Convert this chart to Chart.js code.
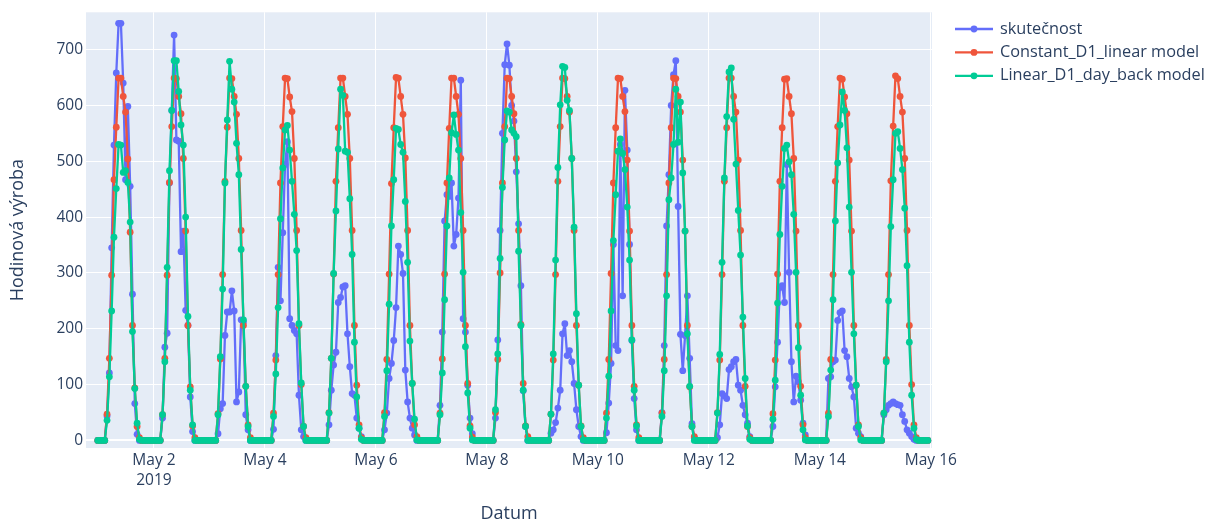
<!DOCTYPE html>
<html lang="cs">
<head>
<meta charset="UTF-8">
<title>Hodinová výroba</title>
<script src="https://cdn.jsdelivr.net/npm/chart.js"></script>
<style>
  body { margin: 0; background: #fff; }
  #chart { display: block; }
</style>
</head>
<body>
<canvas id="chart" width="1223" height="525"></canvas>
<script>
// Hourly production, 1-15 May 2019. One row per day, holding the daylight
// samples only (samples 4..18 of the day); every other hour is 0.
const firstSample = -0.3;   // hours after 1 May 2019 00:00
const daylightFrom = 4;

const seriesNames = ['skutečnost', 'Constant_D1_linear model', 'Linear_D1_day_back model'];
const seriesColors = ['#636efa', '#ef553b', '#00cc96'];

const skutecnost = [
  [44, 121, 345, 529, 658, 747, 747, 640, 467, 598, 455, 262, 66, 11, 0],
  [40, 167, 192, 461, 591, 726, 538, 536, 338, 375, 233, 206, 78, 16, 0],
  [12, 57, 66, 188, 230, 230, 268, 232, 69, 87, 216, 212, 46, 19, 0],
  [20, 152, 310, 250, 372, 494, 535, 218, 206, 197, 191, 81, 19, 7, 0],
  [28, 90, 135, 158, 247, 256, 275, 277, 191, 132, 84, 81, 40, 22, 7],
  [19, 49, 111, 138, 179, 238, 348, 333, 299, 126, 69, 40, 22, 10, 0],
  [63, 194, 393, 440, 437, 461, 348, 369, 434, 645, 218, 194, 99, 40, 12],
  [40, 180, 376, 550, 673, 710, 672, 600, 572, 481, 388, 277, 89, 25, 0],
  [13, 19, 32, 58, 90, 191, 209, 152, 161, 141, 102, 55, 25, 7, 0],
  [14, 67, 138, 351, 170, 161, 530, 259, 627, 520, 351, 179, 75, 19, 0],
  [50, 170, 384, 476, 600, 655, 680, 419, 190, 125, 188, 259, 147, 30, 5],
  [5, 28, 84, 80, 75, 127, 132, 141, 145, 99, 90, 63, 46, 31, 7],
  [25, 96, 176, 274, 277, 247, 494, 301, 141, 69, 115, 105, 72, 31, 10],
  [111, 114, 141, 144, 215, 229, 232, 161, 150, 111, 96, 78, 22, 13, 7],
  [46, 55, 63, 66, 69, 66, 64, 63, 46, 34, 19, 13, 7, 2, 0]
];

const constantModel = [
  [47, 147, 296, 467, 561, 649, 649, 616, 588, 504, 373, 206, 94, 25, 5],
  [46, 147, 296, 462, 562, 649, 648, 616, 585, 505, 375, 206, 96, 26, 5],
  [48, 146, 297, 464, 561, 649, 648, 616, 584, 505, 376, 206, 97, 28, 5],
  [49, 144, 297, 461, 562, 649, 648, 615, 589, 505, 376, 206, 100, 25, 5],
  [50, 147, 298, 464, 560, 649, 649, 616, 584, 505, 376, 206, 99, 28, 5],
  [50, 145, 298, 460, 560, 650, 649, 616, 584, 506, 376, 206, 102, 28, 7],
  [49, 146, 298, 461, 559, 649, 649, 616, 584, 505, 376, 206, 102, 26, 6],
  [50, 145, 300, 461, 562, 649, 648, 616, 585, 505, 376, 208, 102, 26, 7],
  [47, 144, 297, 464, 562, 649, 648, 616, 588, 505, 376, 206, 99, 26, 5],
  [49, 145, 299, 461, 560, 649, 648, 616, 589, 502, 375, 206, 97, 28, 5],
  [49, 145, 297, 461, 560, 649, 648, 616, 588, 502, 375, 206, 96, 25, 7],
  [50, 144, 297, 464, 560, 649, 649, 616, 588, 502, 376, 206, 97, 25, 5],
  [48, 144, 298, 464, 560, 647, 648, 616, 585, 505, 375, 206, 97, 28, 5],
  [49, 145, 297, 464, 562, 649, 647, 615, 585, 502, 375, 206, 99, 28, 5],
  [49, 145, 297, 465, 563, 653, 648, 616, 588, 505, 376, 206, 100, 28, 5]
];

const linearModel = [
  [36, 114, 232, 364, 451, 530, 529, 480, 483, 462, 391, 195, 93, 31, 2],
  [46, 141, 310, 483, 591, 680, 680, 625, 565, 529, 400, 222, 90, 28, 0],
  [46, 150, 271, 461, 574, 679, 629, 606, 532, 476, 342, 216, 97, 25, 0],
  [43, 119, 238, 397, 488, 556, 564, 520, 464, 405, 340, 209, 103, 25, 0],
  [49, 147, 299, 411, 522, 629, 618, 518, 516, 433, 333, 176, 78, 22, 2],
  [43, 125, 244, 384, 467, 559, 557, 530, 516, 428, 319, 178, 102, 38, 1],
  [46, 121, 252, 384, 470, 551, 583, 548, 520, 408, 301, 168, 85, 22, 1],
  [55, 155, 326, 453, 538, 590, 588, 556, 550, 544, 339, 206, 90, 25, 0],
  [47, 155, 323, 489, 601, 670, 668, 609, 591, 505, 382, 227, 99, 25, 1],
  [40, 115, 232, 358, 440, 518, 540, 514, 485, 418, 323, 180, 90, 26, 0],
  [43, 125, 259, 431, 470, 530, 629, 534, 606, 479, 375, 191, 97, 25, 0],
  [49, 154, 319, 470, 580, 660, 667, 575, 495, 412, 332, 221, 111, 26, 2],
  [38, 108, 246, 369, 455, 523, 529, 499, 476, 405, 301, 166, 81, 19, 1],
  [43, 126, 252, 393, 497, 565, 624, 591, 524, 418, 301, 191, 99, 25, 1],
  [49, 141, 250, 383, 467, 550, 553, 523, 485, 416, 313, 176, 81, 22, 2]
];

const yTicks = [0, 100, 200, 300, 400, 500, 600, 700];
const xTickHours = [24, 72, 120, 168, 216, 264, 312, 360];
const xTickLabels = ['May 2', 'May 4', 'May 6', 'May 8', 'May 10', 'May 12', 'May 14', 'May 16'];
const xTickYear = '2019';

const font = "'Open Sans', sans-serif";
const ink = '#2a3f5f';

// expand the daily rows into one hourly series
function toPoints(days) {
  const pts = [];
  days.forEach((row, d) => {
    for (let j = 0; j < 24; j++) {
      const k = j - daylightFrom;
      const y = (k >= 0 && k < row.length) ? row[k] : 0;
      pts.push({ x: firstSample + d * 24 + j, y: y });
    }
  });
  return pts;
}

function makeDataset(i, days) {
  return {
    label: seriesNames[i],
    data: toPoints(days),
    borderColor: seriesColors[i],
    backgroundColor: seriesColors[i],
    borderWidth: 2.3,
    borderJoinStyle: 'round',
    borderCapStyle: 'round',
    pointRadius: 3.4,
    pointBorderWidth: 0,
    pointHoverRadius: 3.4,
    tension: 0,
    order: 3 - i   // later traces are painted on top
  };
}

// light blue-grey plot area behind the grid
const plotBg = {
  id: 'plotBg',
  beforeDraw(chart) {
    const { ctx, chartArea: a } = chart;
    ctx.save();
    ctx.fillStyle = '#e5ecf6';
    ctx.fillRect(a.left, a.top, a.right - a.left, a.bottom - a.top);
    ctx.restore();
  }
};

// axis titles and the line+marker legend on the right
const titlesAndLegend = {
  id: 'titlesAndLegend',
  afterDraw(chart) {
    const { ctx, chartArea: a } = chart;
    ctx.save();
    ctx.fillStyle = ink;
    ctx.font = '18px ' + font;
    ctx.textAlign = 'center';
    ctx.textBaseline = 'middle';
    ctx.fillText('Datum', (a.left + a.right) / 2, 514);
    ctx.translate(18, (a.top + a.bottom) / 2);
    ctx.rotate(-Math.PI / 2);
    ctx.fillText('Hodinová výroba', 0, 0);
    ctx.restore();

    ctx.save();
    ctx.font = '16.3px ' + font;
    ctx.textAlign = 'left';
    ctx.textBaseline = 'middle';
    chart.data.datasets.forEach((ds, i) => {
      const y = 29 + i * 23.4;
      ctx.strokeStyle = ds.borderColor;
      ctx.fillStyle = ds.borderColor;
      ctx.lineWidth = 2.3;
      ctx.beginPath();
      ctx.moveTo(955, y);
      ctx.lineTo(993, y);
      ctx.stroke();
      ctx.beginPath();
      ctx.arc(974, y, 3.4, 0, Math.PI * 2);
      ctx.fill();
      ctx.fillStyle = ink;
      ctx.fillText(ds.label, 1000, y);
    });
    ctx.restore();
  }
};

new Chart(document.getElementById('chart'), {
  type: 'line',
  data: {
    datasets: [
      makeDataset(0, skutecnost),
      makeDataset(1, constantModel),
      makeDataset(2, linearModel)
    ]
  },
  options: {
    responsive: false,
    animation: false,
    devicePixelRatio: 1,
    layout: { padding: { top: 10, right: 291, bottom: 0, left: 0 } },
    scales: {
      x: {
        type: 'linear',
        min: -5.4,
        max: 360.5,
        afterBuildTicks: (scale) => { scale.ticks = xTickHours.map(v => ({ value: v })); },
        afterFit: (scale) => { scale.height = 77; },
        grid: { color: '#ffffff', lineWidth: 1, drawTicks: false },
        border: { display: false },
        ticks: {
          autoSkip: false,
          maxRotation: 0,
          padding: 3,
          color: ink,
          font: { family: font, size: 15.5, lineHeight: 1.27 },
          callback: (value, index) => index === 0 ? [xTickLabels[0], xTickYear] : xTickLabels[index]
        }
      },
      y: {
        min: -13.5,
        max: 766.7,
        afterBuildTicks: (scale) => { scale.ticks = yTicks.map(v => ({ value: v })); },
        afterFit: (scale) => { scale.width = 86; },
        grid: {
          color: '#ffffff',
          lineWidth: (c) => c.tick && c.tick.value === 0 ? 2 : 1,
          drawTicks: false
        },
        border: { display: false },
        ticks: {
          padding: 3,
          color: ink,
          font: { family: font, size: 15.5 }
        }
      }
    },
    plugins: {
      legend: { display: false },
      tooltip: { enabled: false }
    }
  },
  plugins: [plotBg, titlesAndLegend]
});
</script>
</body>
</html>
